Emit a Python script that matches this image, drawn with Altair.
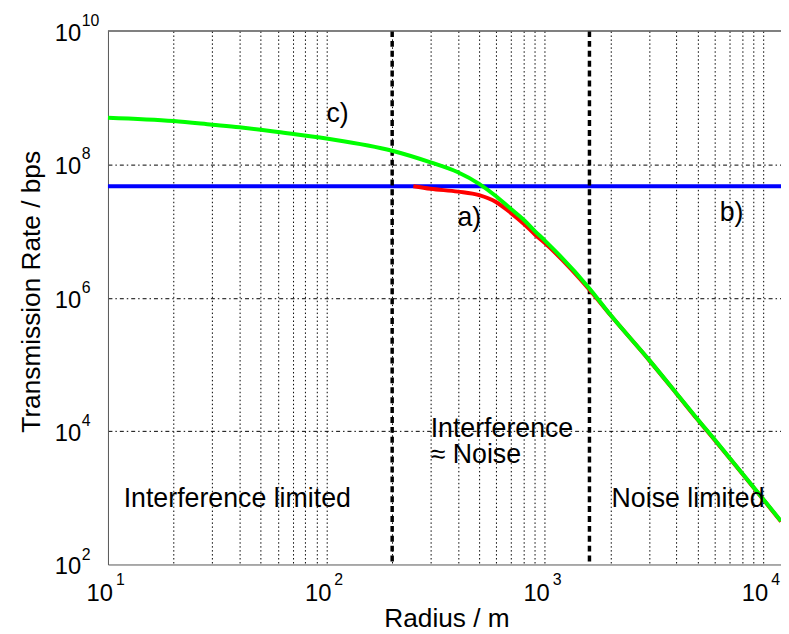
import altair as alt
import pandas as pd

FONT = "Liberation Sans"

# ---- data ----
green_r = [10, 20, 30, 40, 50, 60, 100, 200, 300, 400, 500, 600, 700, 800, 900,
           1000, 1600, 2000, 3000, 4000, 5000, 6000, 7000, 10000, 12050]
green_rate = [5.0e8, 4.46e8, 3.94e8, 3.6e8, 3.31e8, 3.06e8, 2.44e8, 1.6e8, 1.07e8,
              7.6e7, 5.1e7, 3.3e7, 2.14e7, 1.48e7, 1.0e7, 7.2e6, 1.38e6, 5.5e5,
              1.17e5, 3.7e4, 1.51e4, 7.4e3, 3.98e3, 9.55e2, 4.47e2]

red_r = [250, 300, 400, 500, 600, 700, 800, 900, 1000, 1600, 2000, 3000, 4000,
         5000, 6000, 7000, 10000, 12050]
red_rate = [4.7e7, 4.3e7, 3.9e7, 3.45e7, 2.7e7, 1.86e7, 1.29e7, 8.9e6, 6.6e6,
            1.32e6, 5.45e5, 1.16e5, 3.67e4, 1.49e4, 7.3e3, 3.95e3, 9.4e2, 4.4e2]

blue_r = [10, 12050]
blue_rate = [4.7e7, 4.7e7]

boundary_r = [200, 1600]

ann_text = ["c)", "a)", "b)", "Interference limited", "Interference", "\u2248 Noise", "Noise limited"]
ann_r = [100, 398, 6310, 11.8, 300, 300, 2020]
ann_rate = [4.3e8, 1.19e7, 1.41e7, 726, 8.2e3, 3.27e3, 726]

x_grid = [20, 30, 40, 50, 60, 70, 80, 90, 100, 200, 300, 400, 500, 600, 700, 800, 900,
          1000, 2000, 3000, 4000, 5000, 6000, 7000, 8000, 9000, 10000]
y_grid = [1e4, 1e6, 1e8]

xlab_v = [10, 100, 1000, 10000]
xlab_e = ["1", "2", "3", "4"]
ylab_v = [1e2, 1e4, 1e6, 1e8, 1e10]
ylab_e = ["2", "4", "6", "8", "10"]

X_MIN, X_MAX = 10, 12050
Y_MIN, Y_MAX = 1e2, 1e10

xs = alt.Scale(type="log", domain=[X_MIN, X_MAX], nice=False)
ys = alt.Scale(type="log", domain=[Y_MIN, Y_MAX], nice=False)

green = pd.DataFrame({"r": green_r, "rate": green_rate})
red = pd.DataFrame({"r": red_r, "rate": red_rate})
blue = pd.DataFrame({"r": blue_r, "rate": blue_rate})
bnd = pd.DataFrame({"r": boundary_r})
ann = pd.DataFrame({"t": ann_text, "r": ann_r, "rate": ann_rate})
xl = pd.DataFrame({"v": xlab_v, "e": xlab_e})
yl = pd.DataFrame({"v": ylab_v, "e": ylab_e})

x_axis = alt.Axis(values=x_grid, grid=True, gridDash=[1.5, 2.5], gridColor="black",
                  gridOpacity=1, gridWidth=1, labels=False, ticks=False,
                  domainColor="#555",
                  title="Radius / m", titleFont=FONT, titleFontSize=26.5,
                  titleFontWeight="normal", titleColor="black", titleX=342, titleY=63,
                  titleBaseline="alphabetic", titleAlign="center")
y_axis = alt.Axis(values=y_grid, grid=True, gridDash=[4, 3, 1.5, 3], gridColor="black",
                  gridOpacity=1, gridWidth=1, labels=False, ticks=False,
                  domainColor="#555",
                  title="Transmission Rate / bps", titleFont=FONT, titleFontSize=26.5,
                  titleFontWeight="normal", titleColor="black", titleX=-69, titleY=263,
                  titleAngle=270, titleBaseline="alphabetic", titleAlign="center")


def X(field="r"):
    return alt.X(f"{field}:Q", scale=xs, axis=x_axis)


def Y(field="rate"):
    return alt.Y(f"{field}:Q", scale=ys, axis=y_axis)


def XD(v):
    return alt.XDatum(v, scale=xs, axis=x_axis)


def YD(v):
    return alt.YDatum(v, scale=ys, axis=y_axis)


blue_layer = alt.Chart(blue).mark_line(color="#0000FF", strokeWidth=4).encode(
    x=X(), y=Y())
bnd_layer = alt.Chart(bnd).mark_rule(color="black", strokeWidth=3.5,
                                     strokeDash=[6, 4]).encode(x=X())
red_layer = alt.Chart(red).mark_line(color="#FF0000", strokeWidth=4,
                                     interpolate="monotone").encode(x=X(), y=Y())
green_layer = alt.Chart(green).mark_line(color="#00FF00", strokeWidth=4,
                                         interpolate="monotone").encode(x=X(), y=Y())
top_border = alt.Chart(blue).mark_rule(color="#555", strokeWidth=1).encode(
    y=YD(Y_MAX))

ann_layer = alt.Chart(ann).mark_text(font=FONT, fontSize=27, align="left",
                                     baseline="alphabetic", color="black").encode(
    x=X(), y=Y(), text="t:N")

xl_base = alt.Chart(xl).mark_text(font=FONT, fontSize=24, align="right",
                                  baseline="alphabetic", dx=5, dy=37, color="black",
                                  text="10").encode(x=X("v"), y=YD(Y_MIN))
xl_exp = alt.Chart(xl).mark_text(font=FONT, fontSize=16, align="left",
                                 baseline="alphabetic", dx=8, dy=21,
                                 color="black").encode(x=X("v"), y=YD(Y_MIN),
                                                       text="e:N")
yl_base = alt.Chart(yl).mark_text(font=FONT, fontSize=24, align="right",
                                  baseline="alphabetic", dx=-27, dy=10, color="black",
                                  text="10").encode(x=XD(X_MIN), y=Y("v"))
yl_exp = alt.Chart(yl).mark_text(font=FONT, fontSize=16, align="left",
                                 baseline="alphabetic", dx=-26.5, dy=-5,
                                 color="black").encode(x=XD(X_MIN), y=Y("v"),
                                                       text="e:N")

chart = alt.layer(
    blue_layer, bnd_layer, red_layer, top_border, green_layer,
    ann_layer, xl_base, xl_exp, yl_base, yl_exp
).properties(
    width=680, height=539,
    autosize=alt.AutoSizeParams(type="none"),
    padding={"left": 101, "top": 20, "right": 0, "bottom": 67},
    background="white",
).configure_view(stroke=None)

chart.save("out.html", embed_options={"renderer": "svg", "actions": False})
